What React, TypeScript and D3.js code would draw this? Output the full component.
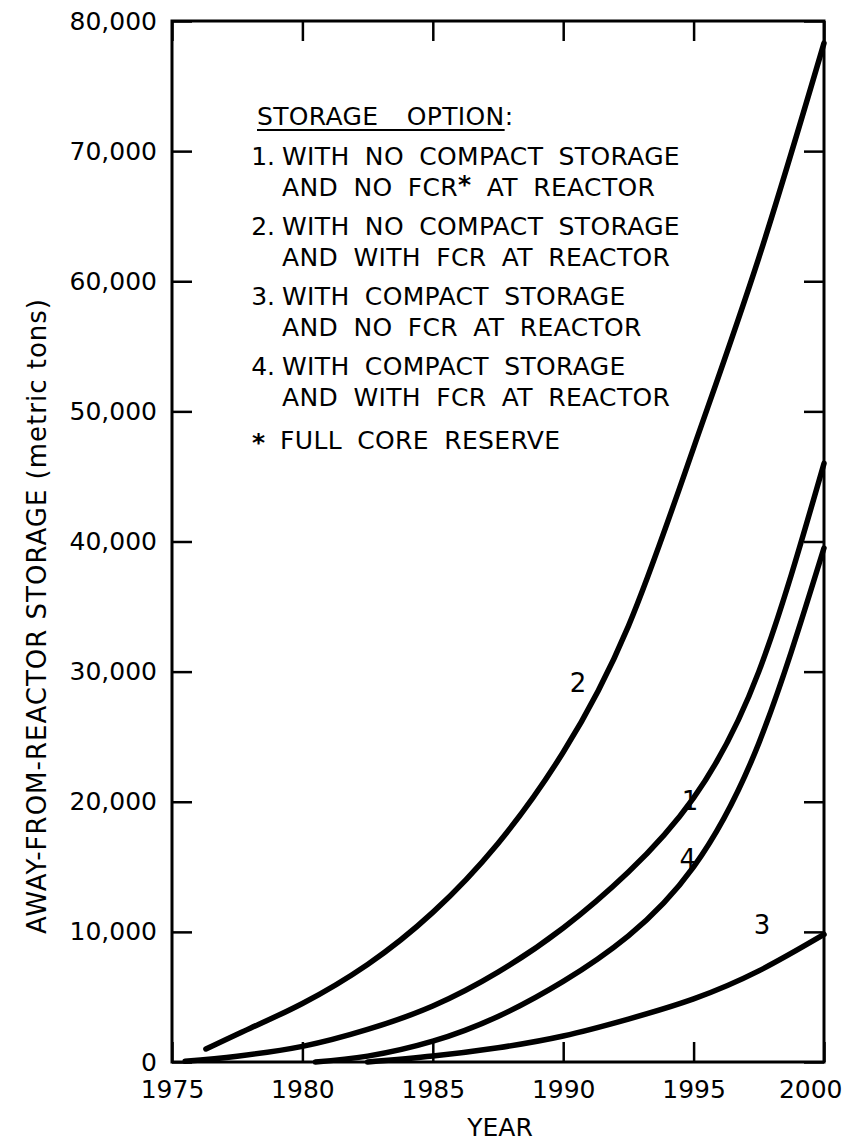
import React, { useEffect, useRef } from 'react';
import * as d3 from 'd3';

// axis ticks
const yearTicks = [1975, 1980, 1985, 1990, 1995, 2000];
const tonTicks = [0, 10000, 20000, 30000, 40000, 50000, 60000, 70000, 80000];

// storage option curves (metric tons)
const option1Years = [1975.5, 1977.5, 1980, 1982.5, 1985, 1987.5, 1990, 1992.5, 1995, 1997.5, 2000];
const option1Tons = [50, 450, 1200, 2500, 4300, 6900, 10300, 14600, 20300, 30000, 46000];

const option2Years = [1976.3, 1978, 1980, 1982.5, 1985, 1987.5, 1990, 1992.5, 1995, 1997.5, 2000];
const option2Tons = [1000, 2600, 4500, 7500, 11500, 16800, 23800, 33500, 47200, 61800, 78300];

const option3Years = [1982.5, 1985, 1987.5, 1990, 1992.5, 1995, 1997.5, 2000];
const option3Tons = [0, 460, 1100, 2000, 3300, 4850, 7000, 9800];

const option4Years = [1980.5, 1982.5, 1985, 1987.5, 1990, 1992.5, 1995, 1997.5, 2000];
const option4Tons = [0, 450, 1600, 3500, 6200, 9700, 15000, 24500, 39500];

const curveNames = ['1', '2', '3', '4'];
// where each number sits next to its curve (year, tons)
const curveLabelYears = [1994.86, 1990.57, 1997.62, 1994.78];
const curveLabelTons = [19370, 28430, 9840, 14900];

const legendTitle = 'STORAGE OPTION';
const optionNumbers = ['1.', '2.', '3.', '4.'];
const optionLines = [
    ['WITH NO COMPACT STORAGE', 'AND NO FCR* AT REACTOR'],
    ['WITH NO COMPACT STORAGE', 'AND WITH FCR AT REACTOR'],
    ['WITH COMPACT STORAGE', 'AND NO FCR AT REACTOR'],
    ['WITH COMPACT STORAGE', 'AND WITH FCR AT REACTOR'],
];
const footnote = 'FULL CORE RESERVE';

const FONT = '"DejaVu Sans", sans-serif';

const App: React.FC = () => {
    const ref = useRef<SVGSVGElement | null>(null);

    useEffect(() => {
        if (!ref.current) return;
        const width = 848;
        const height = 1144;
        const margin = { top: 21, right: 24, bottom: 82, left: 172 };
        const innerW = width - margin.left - margin.right;
        const innerH = height - margin.top - margin.bottom;

        const root = d3.select(ref.current);
        root.selectAll('*').remove();
        root.attr('width', width).attr('height', height);

        const g = root.append('g').attr('transform', `translate(${margin.left},${margin.top})`);

        const x = d3.scaleLinear().domain([1975, 2000]).range([0, innerW]);
        const y = d3.scaleLinear().domain([0, 80000]).range([innerH, 0]);

        const styleAxis = (sel: any) => {
            sel.select('.domain').remove();
            sel.selectAll('line').attr('stroke', '#000').attr('stroke-width', 2.5);
            sel.selectAll('text').attr('fill', '#000').style('font-family', FONT).style('font-size', '25px');
        };

        // left axis with labels
        g.append('g')
            .call(d3.axisLeft(y).tickValues(tonTicks).tickFormat(d3.format(',') as any).tickSizeInner(-20).tickSizeOuter(0).tickPadding(15))
            .call(styleAxis);

        // right axis ticks only
        g.append('g')
            .attr('transform', `translate(${innerW},0)`)
            .call(d3.axisRight(y).tickValues(tonTicks).tickFormat(() => '').tickSizeInner(-20).tickSizeOuter(0))
            .call(styleAxis);

        // top ticks
        g.append('g')
            .call(d3.axisTop(x).tickValues(yearTicks).tickFormat(() => '').tickSizeInner(-20).tickSizeOuter(0))
            .call(styleAxis);

        // bottom axis with labels
        const bottom = g.append('g')
            .attr('transform', `translate(0,${innerH})`)
            .call(d3.axisBottom(x).tickValues(yearTicks).tickFormat(d3.format('d') as any).tickSizeInner(-20).tickSizeOuter(0).tickPadding(18))
            .call(styleAxis);
        // keep the last year inside the page
        bottom.selectAll('text').filter((d: any) => d === 2000).attr('text-anchor', 'end').attr('x', 18);

        // frame
        g.append('rect')
            .attr('width', innerW)
            .attr('height', innerH)
            .attr('fill', 'none')
            .attr('stroke', '#000')
            .attr('stroke-width', 3);

        // curves
        const series = [
            { years: option1Years, tons: option1Tons },
            { years: option2Years, tons: option2Tons },
            { years: option3Years, tons: option3Tons },
            { years: option4Years, tons: option4Tons },
        ];
        const line = d3.line<[number, number]>()
            .x(d => x(d[0]))
            .y(d => Math.min(y(d[1]), innerH))
            .curve(d3.curveNatural);

        series.forEach(s => {
            const pts = s.years.map((yr, i) => [yr, s.tons[i]] as [number, number]);
            g.append('path')
                .datum(pts)
                .attr('fill', 'none')
                .attr('stroke', '#000')
                .attr('stroke-width', 5.5)
                .attr('stroke-linecap', 'round')
                .attr('d', line);
        });

        g.selectAll('text.curve-label')
            .data(curveNames)
            .enter()
            .append('text')
            .attr('class', 'curve-label')
            .attr('x', (d, i) => x(curveLabelYears[i]))
            .attr('y', (d, i) => y(curveLabelTons[i]))
            .attr('text-anchor', 'middle')
            .style('font-family', FONT)
            .style('font-size', '26px')
            .text(d => d);

        // axis titles
        root.append('text')
            .attr('x', margin.left + innerW / 2 + 2)
            .attr('y', 1136)
            .attr('text-anchor', 'middle')
            .style('font-family', FONT)
            .style('font-size', '25px')
            .text('YEAR');

        root.append('text')
            .attr('transform', `translate(46,${616}) rotate(-90)`)
            .attr('text-anchor', 'middle')
            .style('font-family', FONT)
            .style('font-size', '26px')
            .style('letter-spacing', '1px')
            .text('AWAY-FROM-REACTOR STORAGE (metric tons)');

        // legend
        const legend = root.append('g')
            .style('font-family', FONT)
            .style('font-size', '25px')
            .style('letter-spacing', '0.35px')
            .style('word-spacing', '7px');

        const title = legend.append('text').attr('x', 257).attr('y', 125).style('word-spacing', '20px');
        title.append('tspan').text(legendTitle);
        title.append('tspan').text(':');
        const titleLen = (title.select('tspan').node() as SVGTextContentElement).getComputedTextLength();
        legend.append('line')
            .attr('x1', 257).attr('x2', 257 + titleLen)
            .attr('y1', 130).attr('y2', 130)
            .attr('stroke', '#000').attr('stroke-width', 2);

        optionLines.forEach((lines, i) => {
            const base = 165 + i * 70;
            legend.append('text')
                .attr('x', 275).attr('y', base)
                .attr('text-anchor', 'end')
                .style('letter-spacing', '0px')
                .text(optionNumbers[i]);
            lines.forEach((ln, j) => {
                const t = legend.append('text').attr('x', 282).attr('y', base + j * 31);
                const parts = ln.split('*');
                t.append('tspan').text(parts[0]);
                if (parts.length > 1) {
                    t.append('tspan').attr('dy', -3).style('font-weight', 'bold').text('*');
                    t.append('tspan').attr('dy', 3).text(parts[1]);
                }
            });
        });

        legend.append('text').attr('x', 252).attr('y', 451).style('font-weight', 'bold').text('*');
        legend.append('text').attr('x', 280).attr('y', 449).text(footnote);
    }, []);

    return <svg ref={ref} style={{ position: 'absolute', left: 0, top: 0, background: '#fff' }} />;
};

export default App;
